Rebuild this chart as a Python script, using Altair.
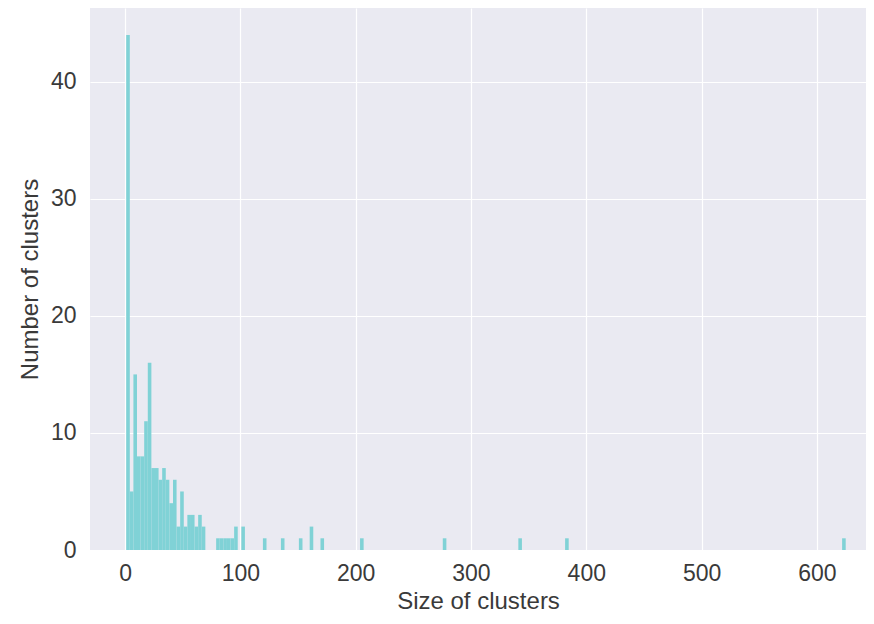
import altair as alt
import pandas as pd

# Histogram of cluster sizes: bins of equal width starting at bin_min
bin_min = 1.0
bin_width = 3.12
bin_index = [0, 1, 2, 3, 4, 5, 6, 7, 8, 9, 10, 11, 12, 13, 14, 15, 16, 17, 18, 19, 20, 21,
             25, 26, 27, 28, 29, 30, 32, 38, 43, 48, 51, 54, 65, 88, 109, 122, 199]
bin_count = [44, 5, 15, 8, 8, 11, 16, 7, 7, 6, 7, 6, 4, 6, 2, 5, 2, 3, 3, 2, 3, 2,
             1, 1, 1, 1, 1, 2, 2, 1, 1, 1, 2, 1, 1, 1, 1, 1, 1]

x_ticks = [0, 100, 200, 300, 400, 500, 600]
y_ticks = [0, 10, 20, 30, 40]

df = pd.DataFrame({
    "lo": [bin_min + k * bin_width for k in bin_index],
    "hi": [bin_min + (k + 1) * bin_width for k in bin_index],
    "count": bin_count,
})

font = "Liberation Sans"

chart = alt.Chart(df).mark_rect(color="#80D2D6", stroke=None).encode(
    x=alt.X("lo:Q",
            scale=alt.Scale(domain=[-30.4, 642.6], nice=False, zero=False),
            axis=alt.Axis(values=x_ticks, title="Size of clusters", grid=True,
                          labelPadding=12, titlePadding=4)),
    x2="hi:Q",
    y=alt.Y("count:Q",
            scale=alt.Scale(domain=[0, 46.3], nice=False),
            axis=alt.Axis(values=y_ticks, title="Number of clusters", grid=True,
                          labelPadding=14, titlePadding=8)),
    y2=alt.datum(0),
).properties(
    width=776,
    height=542,
    autosize=alt.AutoSizeParams(type="none"),
    padding={"left": 82, "top": 0, "right": 0, "bottom": 66},
).configure_view(
    fill="#EAEAF2", stroke=None
).configure_axis(
    domain=False, ticks=False, gridColor="#FFFFFF", gridWidth=1.2,
    labelFont=font, labelFontSize=23, labelColor="#3a3a3a",
    titleFont=font, titleFontSize=24, titleFontWeight="normal", titleColor="#3a3a3a",
)

chart.save("out.html", embed_options={"renderer": "svg", "actions": False})
